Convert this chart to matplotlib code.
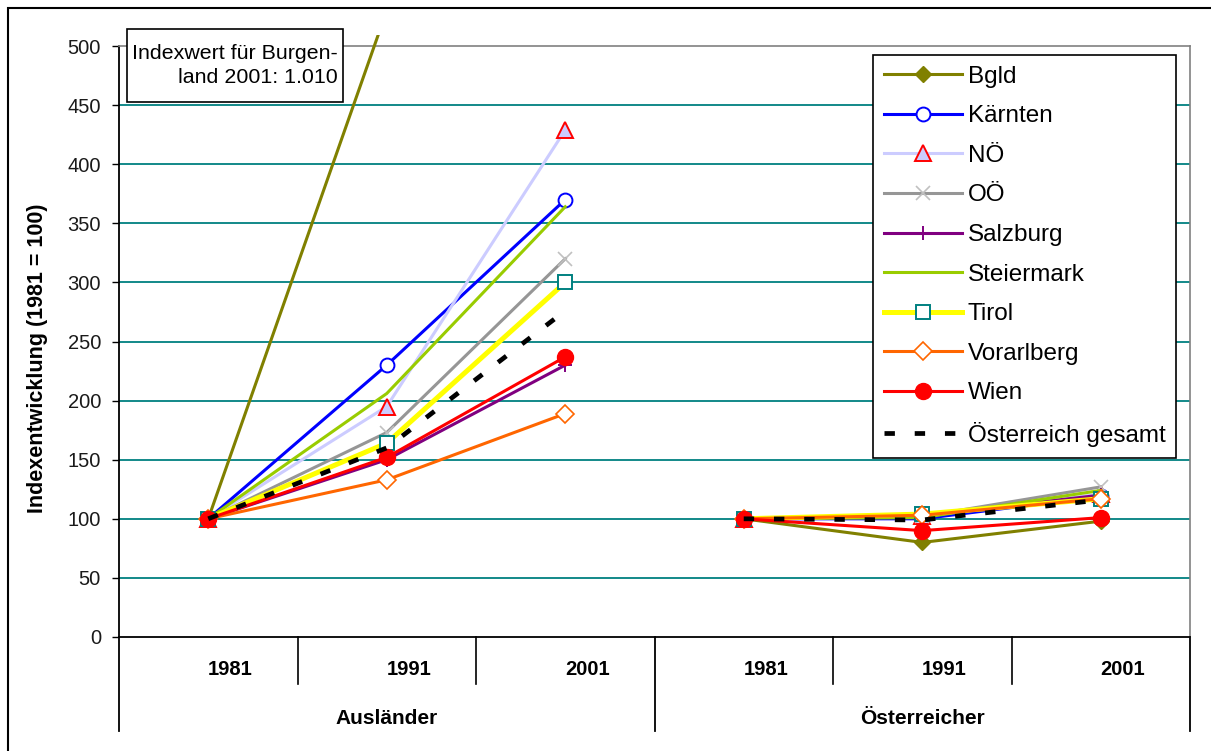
import matplotlib
matplotlib.use("Agg")
import matplotlib.pyplot as plt
from matplotlib.patches import Rectangle

plt.rcParams['font.family'] = ['Liberation Sans', 'DejaVu Sans']

years = ["1981", "1991", "2001"]
groups = ["Ausländer", "Österreicher"]

# index values (1981 = 100), first three = Ausländer, last three = Österreicher
bgld = [100, 530, 1010, 100, 80, 98]
kaernten = [100, 230, 370, 100, 100, 119]
noe = [100, 195, 429, 100, 102, 121]
ooe = [100, 173, 320, 100, 102, 127]
salzburg = [100, 150, 230, 100, 103, 120]
steiermark = [100, 206, 364, 100, 101, 124]
tirol = [100, 164, 300, 100, 104, 117]
vorarlberg = [100, 133, 189, 100, 103, 117]
wien = [100, 152, 237, 100, 90, 101]
gesamt = [100, 160, 276, 100, 99, 116]

series = [
    ("Bgld", bgld, dict(color="#808000", lw=2.2, marker="D", ms=8, mfc="#808000", mec="#808000")),
    ("Kärnten", kaernten, dict(color="#0000FF", lw=2.2, marker="o", ms=10, mfc="white", mec="#0000FF", mew=1.4)),
    ("NÖ", noe, dict(color="#CCCCFF", lw=2.2, marker="^", ms=12, mfc="#CCCCFF", mec="#FF0000", mew=1.4)),
    ("OÖ", ooe, dict(color="#969696", lw=2.2, marker="x", ms=10, mec="#C0C0C0", mew=1.2)),
    ("Salzburg", salzburg, dict(color="#800080", lw=2.2, marker="+", ms=10, mec="#800080", mew=1.4)),
    ("Steiermark", steiermark, dict(color="#99CC00", lw=2.2)),
    ("Tirol", tirol, dict(color="#FFFF00", lw=3.6, marker="s", ms=10.5, mfc="white", mec="#008080", mew=1.4)),
    ("Vorarlberg", vorarlberg, dict(color="#FF6600", lw=2.2, marker="D", ms=9, mfc="white", mec="#FF6600", mew=1.2)),
    ("Wien", wien, dict(color="#FF0000", lw=2.2, marker="o", ms=11.5, mfc="#FF0000", mec="#FF0000")),
    ("Österreich gesamt", gesamt, dict(color="black", lw=3.4, linestyle=(0, (2.2, 4.2)))),
]

W, H = 1211, 751
fig = plt.figure(figsize=(W / 100, H / 100), dpi=100)
ax = fig.add_axes([119 / W, 1 - 637 / H, (1190 - 119) / W, (637 - 46) / H])

ax.set_xlim(-0.5, 5.5)
ax.set_ylim(0, 500)

clip = Rectangle((0, 0), 1, 1.019, transform=ax.transAxes, visible=False)
ax.add_patch(clip)

for name, vals, style in series:
    first = True
    for g in range(2):
        xs = [g * 3 + i for i in range(3)]
        ys = vals[g * 3:g * 3 + 3]
        line, = ax.plot(xs, ys, label=name if first else None, zorder=3, **style)
        line.set_clip_path(clip)
        first = False

# grid
ax.set_yticks(range(0, 501, 50))
for v in range(50, 500, 50):
    ax.axhline(v, color="#008080", lw=1.3, zorder=1)

ax.tick_params(axis="y", direction="out", length=5, width=1, pad=8, labelsize=14.5, colors="black")
ax.tick_params(axis="y", labelcolor="#1a1a1a")
ax.set_xticks([])
for s in ["top", "right"]:
    ax.spines[s].set_color("#808080")
    ax.spines[s].set_linewidth(1.2)
for s in ["left", "bottom"]:
    ax.spines[s].set_color("black")
    ax.spines[s].set_linewidth(1.3)

ax.set_ylabel("Indexentwicklung (1981 = 100)", fontsize=15.5, fontweight="bold")
ax.yaxis.set_label_coords(-0.0663, 0.471)

# multi-level category axis
xt = ax.get_xaxis_transform()
for b in [0.5, 1.5, 3.5, 4.5]:
    ax.plot([b, b], [0, -0.0795], color="black", lw=1.2, transform=xt, clip_on=False)
for b in [-0.5, 2.5, 5.5]:
    ax.plot([b, b], [0, -0.159], color="black", lw=1.3, transform=xt, clip_on=False)
for g in range(2):
    for i, yr in enumerate(years):
        ax.text(g * 3 + i + 0.123, -0.0558, yr, transform=xt, ha="center", va="center",
                fontsize=14.5, fontweight="bold")
    ax.text(g * 3 + 1, -0.1387, groups[g], transform=xt, ha="center", va="center",
            fontsize=15, fontweight="bold")

leg = fig.legend(loc="upper left", bbox_to_anchor=(873 / W, 1 - 55 / H), borderaxespad=0,
                 fontsize=17.5, numpoints=1, handlelength=3.2, handletextpad=0.25,
                 labelspacing=0.72, borderpad=0.45, fancybox=False, framealpha=1)
leg.get_frame().set_edgecolor("black")
leg.get_frame().set_linewidth(1.2)

# note box for the Burgenland value that runs off the scale
fig.add_artist(Rectangle((127 / W, 1 - 102 / H), (343 - 127) / W, (102 - 29) / H,
                         transform=fig.transFigure, fc="white", ec="black", lw=1.2, zorder=5))
fig.text(338 / W, 1 - 65.5 / H, "Indexwert für Burgen-\nland 2001: 1.010", ha="right", va="center",
         multialignment="right", fontsize=15.4, linespacing=1.3, zorder=6)

# outer chart border
fig.add_artist(Rectangle((8 / W, -0.2), 1.2, 1.2 - 8 / H, transform=fig.transFigure,
                         fill=False, ec="black", lw=1.5))

fig.savefig("out.png", dpi=100)
